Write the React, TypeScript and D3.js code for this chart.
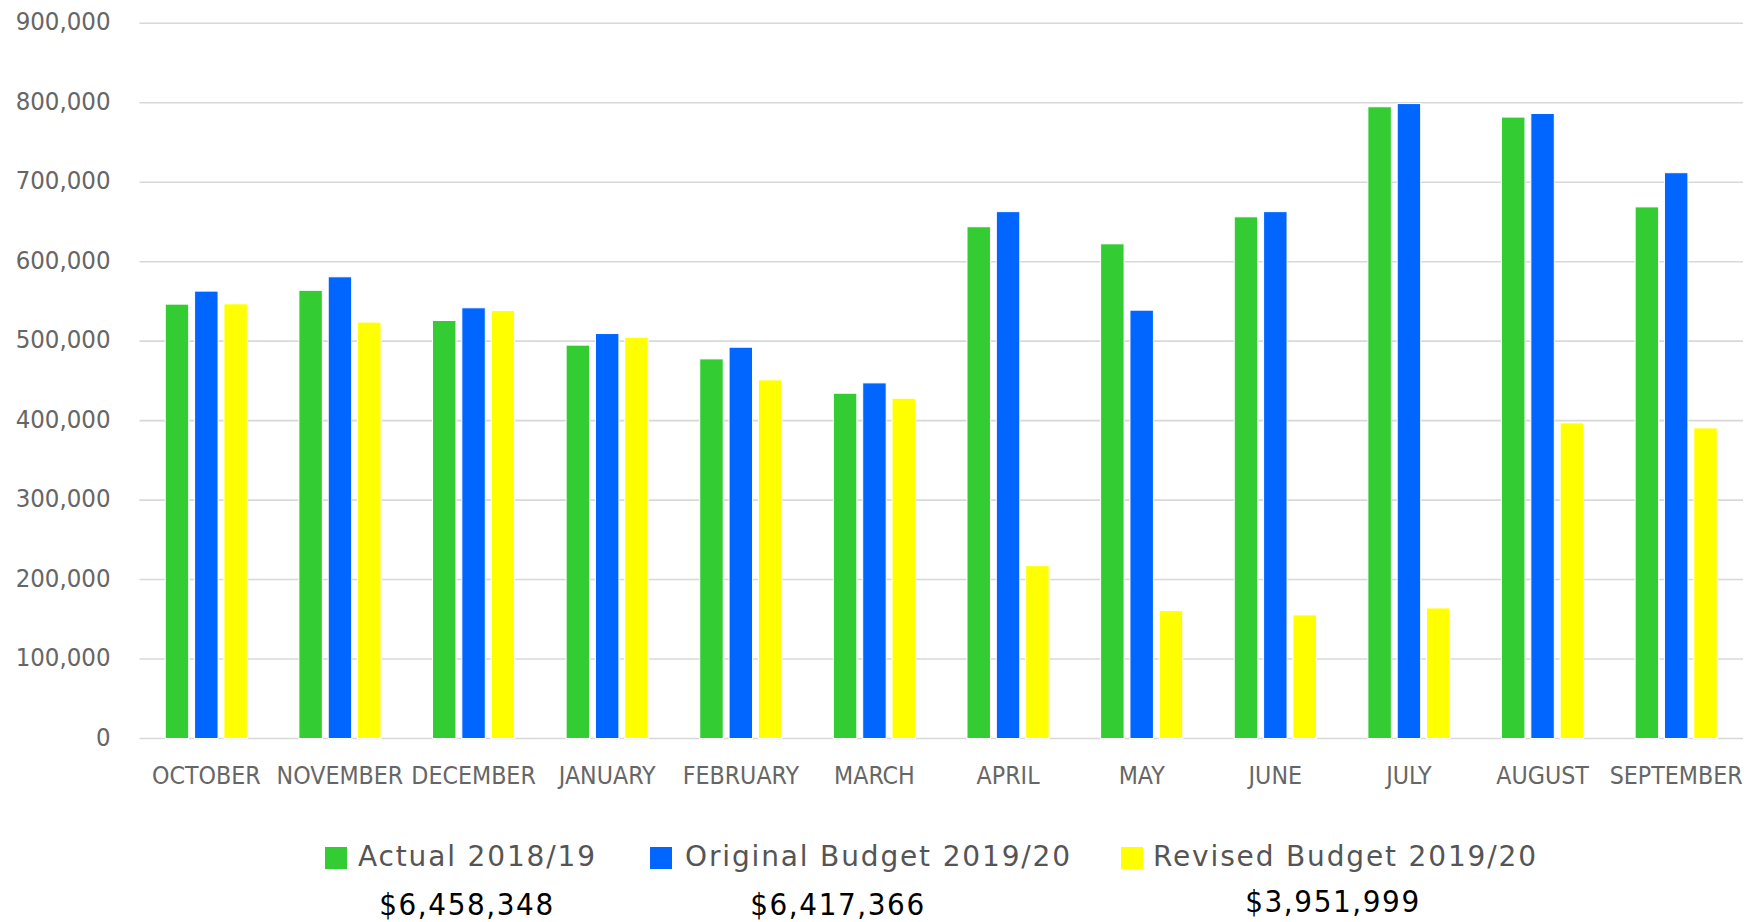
import React, { useEffect } from "react";
import * as d3 from "d3";

const categories = ["OCTOBER", "NOVEMBER", "DECEMBER", "JANUARY", "FEBRUARY", "MARCH", "APRIL", "MAY", "JUNE", "JULY", "AUGUST", "SEPTEMBER"];
const seriesNames = ["Actual 2018/19", "Original Budget 2019/20", "Revised Budget 2019/20"];
const seriesColors = ["#33cc33", "#0066ff", "#ffff00"];
const actual = [546600, 564000, 526000, 495000, 477700, 434500, 644000, 622500, 656500, 795000, 782000, 669000];
const original = [563000, 581000, 542000, 509600, 492400, 447500, 663000, 539000, 663000, 799000, 786500, 712000];
const revised = [547000, 524000, 538500, 505000, 451300, 428200, 217500, 160900, 155500, 164300, 397200, 390900];
const totals = ["$6,458,348", "$6,417,366", "$3,951,999"];
const yTicks = [0, 100000, 200000, 300000, 400000, 500000, 600000, 700000, 800000, 900000];

const W = 1759;
const H = 922;
const plotLeft = 139.5;
const plotRight = 1743;
const plotBottom = 738.5;
const plotTop = 23.3;
const FONT = "'DejaVu Sans Condensed', 'DejaVu Sans', sans-serif";
const LFONT = "'DejaVu Sans', sans-serif";

export default function App() {
  useEffect(() => {
    document.body.style.margin = "0";
  }, []);

  const x0 = d3.scaleBand<string>().domain(categories).range([plotLeft, plotRight]).paddingInner(0).paddingOuter(0);
  const bw = x0.bandwidth();
  const gp = (bw - 88) / 2;
  const x1 = d3.scaleBand<string>().domain(seriesNames).range([gp, bw - gp]).paddingInner(0.2).paddingOuter(0.1);
  const y = d3.scaleLinear().domain([0, 900000]).range([plotBottom, plotTop]);
  const fmt = d3.format(",");
  const data = [actual, original, revised];

  const legendItems = [
    { sq: 325, tx: 358, total: totals[0], tcx: 467, tby: 915 },
    { sq: 650, tx: 685, total: totals[1], tcx: 838, tby: 915 },
    { sq: 1121, tx: 1153, total: totals[2], tcx: 1333, tby: 912 },
  ];

  return (
    <svg width={W} height={H} style={{ display: "block", background: "#fff" }}>
      {yTicks.map((t) => (
        <g key={t}>
          <line x1={plotLeft} x2={plotRight} y1={y(t)} y2={y(t)} stroke="#d8d8d8" strokeWidth={1.6} />
          <text x={110.5} y={y(t) + 7} textAnchor="end" fontFamily={FONT} fontSize={25.5} fill="#666">
            {fmt(t)}
          </text>
        </g>
      ))}
      {categories.map((c, i) => (
        <g key={c} transform={`translate(${x0(c)},0)`}>
          {seriesNames.map((s, j) => (
            <rect
              key={s}
              x={x1(s)!}
              width={x1.bandwidth()}
              y={y(data[j][i])}
              height={plotBottom - y(data[j][i])}
              fill={seriesColors[j]}
              stroke="#ffffff"
              strokeWidth={1}
            />
          ))}
          <text x={bw / 2} y={784} textAnchor="middle" fontFamily={FONT} fontSize={24.7} fill="#666">
            {c}
          </text>
        </g>
      ))}
      {legendItems.map((l, j) => (
        <g key={j}>
          <rect x={l.sq} y={847} width={22} height={22} fill={seriesColors[j]} />
          <text x={l.tx} y={866} fontFamily={LFONT} fontSize={28} fill="#555" letterSpacing={1.85}>
            {seriesNames[j]}
          </text>
          <text x={l.tcx} y={l.tby} textAnchor="middle" fontFamily={FONT} fontSize={31} fill="#000" letterSpacing={1.6}>
            {l.total}
          </text>
        </g>
      ))}
    </svg>
  );
}
